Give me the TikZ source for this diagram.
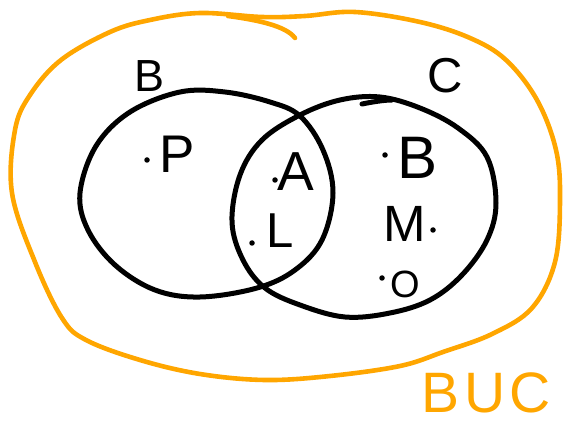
\documentclass[tikz,border=0pt]{standalone}
\usepackage{fontspec}
\setmainfont{Liberation Sans}
\definecolor{pen}{RGB}{255,166,0}
\tikzset{
  setline/.style={line width=5pt, black, line cap=round, line join=round},
  outline/.style={line width=4.6pt, pen, line cap=round, line join=round},
  letter/.style={inner sep=0pt, font=\fontsize{#1}{#1}\selectfont},
  bigletter/.style={inner sep=0pt, text=pen, font=\fontsize{57}{57}\selectfont},
  pt/.style={circle, fill=black, inner sep=0pt, minimum size=5.5pt}
}
\begin{document}
\begin{tikzpicture}[x=1pt,y=-1pt]
\useasboundingbox (0,0) rectangle (563,425);
% outer orange region B U C
\draw[outline] plot[smooth cycle, tension=0.6] coordinates {
 (200,13) (262,17) (305,16) (355,12) (420,22) (470,38) (506,60) (537,100)
 (556,150) (560,200) (555,262) (532,308) (492,334) (443,352) (400,366)
 (330,376) (265,380) (200,374) (140,360) (86,340) (62,318) (35,262)
 (12,193) (15,130) (30,95) (61,60) (110,32) (150,20)};
\coordinate (hookA) at (228,16);
\coordinate (hookB) at (295,38);
\draw[outline] (hookA) .. controls (258,20) and (286,26) .. (hookB);
% set B (left)
\draw[setline] plot[smooth cycle, tension=0.6] coordinates {
 (80,193) (96,146) (130,112) (180,92) (225,92) (270,102) (300,116)
 (323,150) (333,193) (322,240) (295,270) (257,288) (200,297) (155,290)
 (115,265) (88,230)};
% set C (right)
\draw[setline] plot[smooth cycle, tension=0.6] coordinates {
 (232,222) (240,175) (262,140) (300,115) (340,100) (380,97) (420,108)
 (458,128) (487,157) (496,203) (487,240) (462,275) (430,300) (390,313)
 (345,317) (300,305) (265,288) (243,260)};
\coordinate (tailA) at (362,104);
\coordinate (tailB) at (392,100);
\draw[setline] (tailA) .. controls (372,102) and (384,100) .. (tailB);
% labels of sets
\node[letter=45] (lblB) at (150,76) {B};
\node[letter=49] (lblC) at (445,76) {C};
\node[bigletter] (lblBUC) at (486,393) {B\hspace{5pt}U\hspace{4pt}C};
% elements
\node[pt] (dP) at (147,160) {};
\node[letter=53] (eP) at (177,154) {P};
\node[pt] (dA) at (275,180) {};
\node[letter=55] (eA) at (296,172) {A};
\node[pt] (dL) at (252,243) {};
\node[letter=49] (eL) at (280,231) {L};
\node[pt] (dB) at (385,155) {};
\node[letter=60] (eB) at (418,158) {B};
\node[pt] (dM) at (433,230) {};
\node[letter=51] (eM) at (405,224) {M};
\node[pt] (dO) at (382,278) {};
\node[letter=38] (eO) at (405,284) {O};
\end{tikzpicture}
\end{document}
